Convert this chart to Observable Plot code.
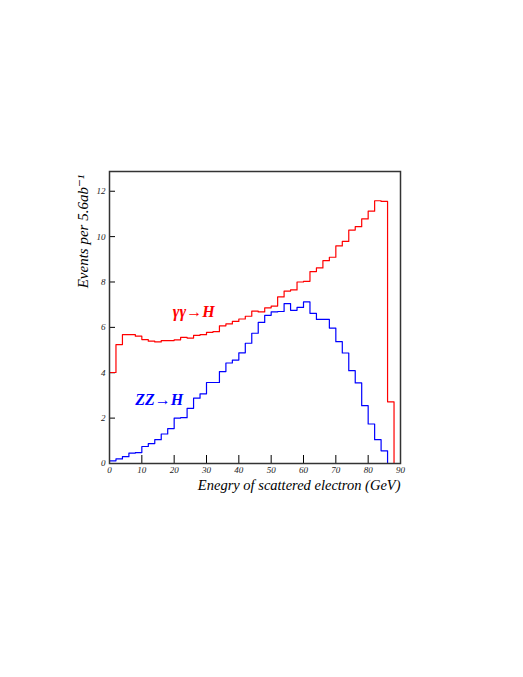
<!DOCTYPE html>
<html>
<head>
<meta charset="utf-8">
<script src="https://cdn.jsdelivr.net/npm/d3@7"></script>
<script src="https://cdn.jsdelivr.net/npm/@observablehq/plot@0.6"></script>
<style>
  html, body { margin: 0; padding: 0; background: #fff; }
  #chart svg { display: block; }
</style>
</head>
<body>
<div id="chart"></div>
<script>
// Bin edges: 2 GeV bins from 0 to 90
const binEdges = d3.range(0, 90, 2);
// gamma gamma -> H (red)
const gammaGammaH = [4.01, 5.24, 5.68, 5.68, 5.61, 5.46, 5.39, 5.36, 5.42, 5.42,
  5.45, 5.56, 5.53, 5.65, 5.68, 5.78, 5.81, 6.07, 6.15, 6.26,
  6.37, 6.49, 6.72, 6.68, 6.86, 6.94, 7.34, 7.6, 7.65, 8.0,
  8.03, 8.46, 8.62, 8.94, 9.09, 9.59, 9.79, 10.29, 10.44, 10.78,
  11.12, 11.58, 11.55, 2.72, 0];
// ZZ -> H (blue)
const zzH = [0.12, 0.2, 0.3, 0.46, 0.48, 0.75, 0.88, 1.05, 1.3, 1.54,
  2.0, 2.02, 2.43, 2.88, 3.07, 3.57, 3.57, 4.05, 4.43, 4.56,
  4.88, 5.3, 5.74, 6.22, 6.53, 6.68, 6.7, 7.05, 6.75, 6.88,
  7.12, 6.62, 6.35, 6.35, 5.97, 5.37, 4.87, 4.09, 3.55, 2.55,
  1.74, 1.05, 0.56, 0, 0];
const xTicks = [0, 10, 20, 30, 40, 50, 60, 70, 80, 90];
const yTicks = [0, 2, 4, 6, 8, 10, 12];
const xLabel = "Enegry of scattered electron (GeV)";
const yLabel = "Events per 5.6ab\u207B\u00B9";
const seriesLabels = ["\u03B3\u03B3\u2192H", "ZZ\u2192H"];

function toSteps(values) {
  const pts = binEdges.map((e, i) => ({x: e, y: values[i]}));
  pts.push({x: 90, y: values[values.length - 1]});
  return pts;
}

const W = 523, H = 677;
const mL = 109, mR = 123, mT = 171, mB = 214;
const plotW = W - mL - mR, plotH = H - mT - mB;

const chart = Plot.plot({
  width: W, height: H,
  marginLeft: mL, marginRight: mR, marginTop: mT, marginBottom: mB,
  x: {domain: [0, 90]},
  y: {domain: [0, 12.87]},
  style: {fontFamily: "'Liberation Serif', 'DejaVu Serif', serif", background: "#fff", color: "#000"},
  marks: [
    Plot.axisX(xTicks, {tickSize: 0, tickPadding: 3, fontSize: 9, fontStyle: "italic", label: null, fill: "#222"}),
    Plot.axisY(yTicks, {tickSize: 0, tickPadding: 4, fontSize: 9, fontStyle: "italic", label: null, fill: "#222"}),
    Plot.tickX(xTicks.slice(1, -1), {x: d => d, insetTop: plotH - 8, stroke: "#000", strokeWidth: 1}),
    Plot.tickY(yTicks.slice(1), {y: d => d, insetRight: plotW - 6, stroke: "#000", strokeWidth: 1}),
    Plot.line(toSteps(gammaGammaH), {x: "x", y: "y", curve: "step-after", stroke: "#ff0000", strokeWidth: 1.2}),
    Plot.line(toSteps(zzH), {x: "x", y: "y", curve: "step-after", stroke: "#0000ff", strokeWidth: 1.2}),
    Plot.frame({stroke: "#333", strokeWidth: 1.5}),
    Plot.text([seriesLabels[0]], {x: 19.6, y: 6.69, text: d => d, textAnchor: "start", lineAnchor: "middle",
      fill: "#ff0000", fontSize: 16, fontWeight: "bold", fontStyle: "italic"}),
    Plot.text([seriesLabels[1]], {x: 7.96, y: 2.81, text: d => d, textAnchor: "start", lineAnchor: "middle",
      fill: "#0000ff", fontSize: 16, fontWeight: "bold", fontStyle: "italic"}),
    Plot.text([yLabel], {frameAnchor: "top-left", dx: -26, dy: 60, rotate: -90, text: d => d,
      textAnchor: "middle", lineAnchor: "middle", fontSize: 15, fontStyle: "italic", fill: "#000"}),
    Plot.text([xLabel], {frameAnchor: "bottom-right", dx: 0, dy: 22, text: d => d,
      textAnchor: "end", lineAnchor: "middle", fontSize: 14.5, fontStyle: "italic", fill: "#000"})
  ]
});
document.getElementById("chart").appendChild(chart);
</script>
</body>
</html>
